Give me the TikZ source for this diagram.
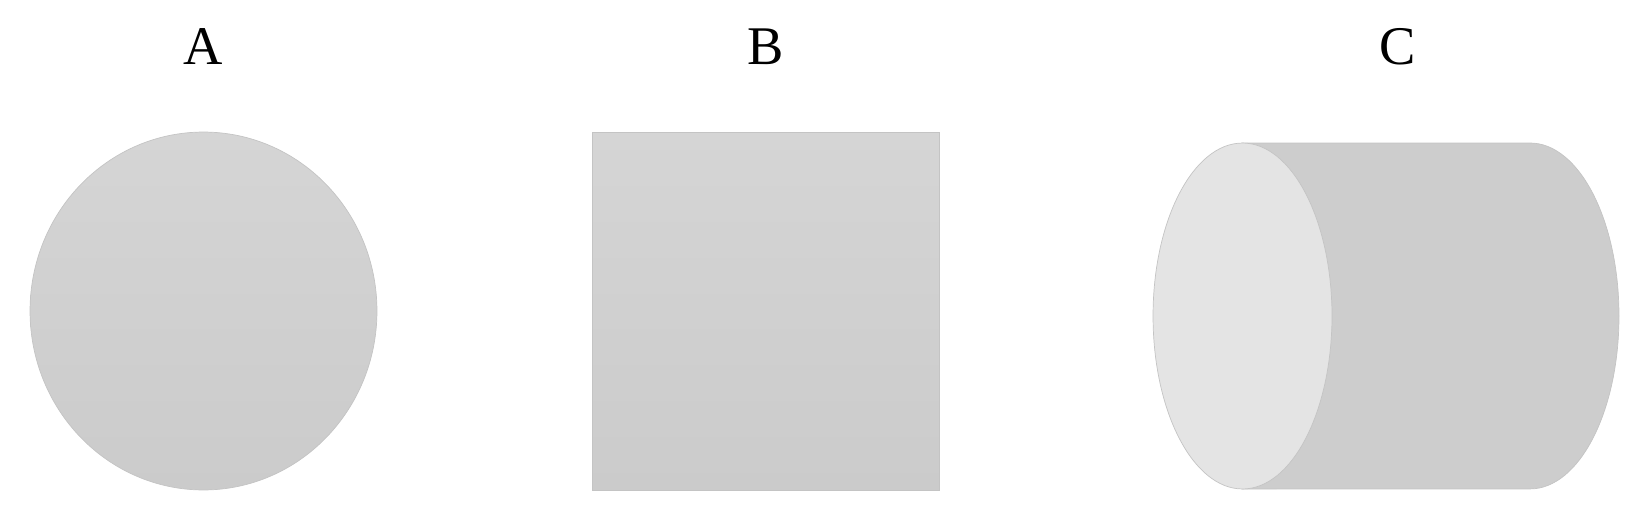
\documentclass[tikz,border=0pt]{standalone}
\usepackage{fontspec}
\setmainfont{Liberation Serif}
\usepackage{tikz}

\definecolor{shapetop}{RGB}{213,213,213}
\definecolor{shapebot}{RGB}{203,203,203}
\definecolor{capface}{RGB}{228,228,228}
\definecolor{bodyface}{RGB}{205,205,205}
\definecolor{shapeedge}{RGB}{196,196,196}

\begin{document}
\begin{tikzpicture}[x=0.02cm, y=-0.02cm, every node/.style={font=\fontsize{31}{36}\selectfont},
	solid/.style={top color=shapetop, bottom color=shapebot, draw=shapeedge, line width=0.4pt}]
	\useasboundingbox (0,0) rectangle (1636,504);
	% labels
	\node (labA) at (203,47) {A};
	\node (labB) at (766,47) {B};
	\node (labC) at (1398,47) {C};
	% circle
	\path[solid] (203.5,311) ellipse [x radius=3.47cm, y radius=3.58cm];
	% square
	\path[solid] (592,132) rectangle (939,490);
	% cylinder
	\path[fill=bodyface, draw=shapeedge, line width=0.4pt] (1242,143) -- (1530,143)
		arc [start angle=90, end angle=-90, x radius=1.78cm, y radius=3.46cm] -- (1242,489) -- cycle;
	\path[fill=capface, draw=shapeedge, line width=0.4pt] (1242.5,316) ellipse [x radius=1.79cm, y radius=3.46cm];
\end{tikzpicture}
\end{document}
